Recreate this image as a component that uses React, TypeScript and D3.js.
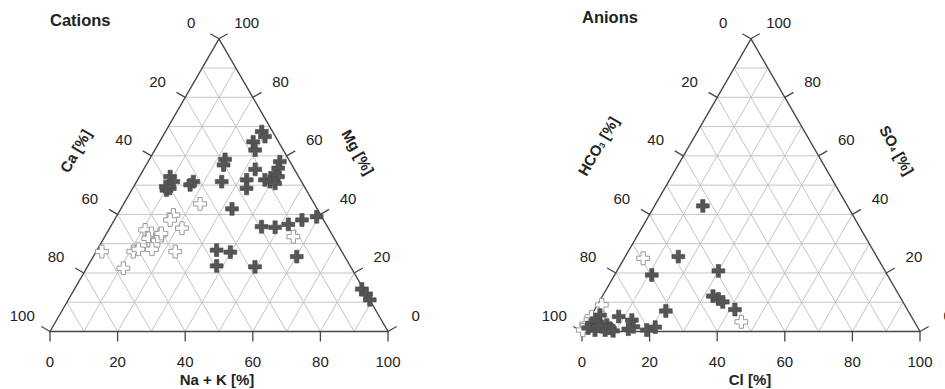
import React from "react";
import * as d3 from "d3";

// ---------- data ----------
// Cations: [Ca, Mg, Na+K] in %
const cationsDark: number[][] = [
  [3.2, 68.3, 28.5], [3.1, 66.6, 30.3], [7.5, 64.8, 27.7], [8.3, 62.0, 29.7],
  [3.0, 58.0, 39.0], [4.6, 55.8, 39.6], [11.6, 55.4, 33.0], [18.8, 58.8, 22.4],
  [20.2, 56.9, 22.9], [23.6, 51.2, 25.2], [32.0, 51.2, 16.8], [33.5, 50.1, 16.4],
  [38.0, 52.9, 9.1], [37.9, 51.2, 10.9], [41.4, 48.3, 10.3], [40.1, 48.9, 11.0],
  [41.0, 49.5, 9.5], [15.9, 51.8, 32.3], [17.4, 48.9, 33.7], [10.5, 51.8, 37.7],
  [9.3, 51.2, 39.5], [6.4, 54.0, 39.6], [6.1, 52.9, 41.0], [8.1, 50.6, 41.3],
  [25.2, 41.9, 32.9], [19.5, 35.8, 44.7], [15.6, 35.6, 48.8], [11.2, 36.6, 52.2],
  [6.4, 38.1, 55.5], [1.5, 39.2, 59.3], [36.8, 27.8, 35.4], [33.1, 27.1, 39.8],
  [39.5, 22.4, 38.1], [28.3, 22.1, 49.6], [14.2, 25.6, 60.2], [0.5, 14.5, 85.0],
  [0.1, 12.8, 87.1], [0.0, 10.8, 89.2],
];
const cationsOpen: number[][] = [
  [33.8, 43.6, 22.6], [43.6, 39.8, 16.6], [45.4, 38.1, 16.5], [43.3, 35.3, 21.4],
  [54.5, 34.7, 10.8], [53.2, 33.5, 13.3], [51.0, 33.0, 16.0], [55.0, 31.8, 13.2],
  [52.7, 31.3, 16.0], [54.6, 29.6, 15.8], [50.3, 33.5, 16.2], [61.7, 27.3, 11.0],
  [59.8, 28.1, 12.1], [55.8, 28.1, 16.1], [49.3, 27.3, 23.4], [71.0, 27.3, 1.7],
  [67.5, 21.6, 10.9], [11.8, 32.4, 55.8],
];
// Anions: [HCO3, SO4, Cl] in %
const anionsDark: number[][] = [
  [42.8, 42.9, 14.3], [58.7, 25.6, 15.7], [69.7, 19.3, 11.0], [49.3, 20.7, 30.0],
  [55.2, 12.1, 32.7], [54.1, 11.1, 34.8], [53.3, 10.1, 36.6], [51.0, 7.5, 41.5],
  [71.7, 7.0, 21.3], [86.6, 5.1, 8.3], [91.9, 5.6, 2.5], [83.3, 3.9, 12.8],
  [84.0, 1.6, 14.4], [85.9, 0.8, 13.3], [80.6, 0.5, 18.9], [77.6, 1.5, 20.9],
  [95.7, 2.8, 1.5], [94.0, 3.3, 2.7], [93.4, 1.6, 5.0], [91.6, 2.2, 6.2],
  [91.2, 1.1, 7.7], [95.9, 0.5, 3.6], [92.9, 0.5, 6.6], [97.6, 1.2, 1.2],
  [94.3, 1.9, 3.8], [90.7, 0.2, 9.1],
];
const anionsOpen: number[][] = [
  [69.4, 25.0, 5.6], [51.2, 3.3, 45.5], [89.6, 9.1, 1.3], [94.7, 5.0, 0.3],
  [97.5, 2.5, 0.0], [99.5, 0.5, 0.0],
];

const tickValues = [0, 20, 40, 60, 80, 100];
const gridValues = [10, 20, 30, 40, 50, 60, 70, 80, 90];

// ---------- layout ----------
const W = 945;
const H = 389;
const SIDE = 338;
const BASE_Y = 331.5;
const FONT = "'Liberation Sans', Arial, Helvetica, sans-serif";
const GRID = "#c4c4c4";
const AXIS = "#474747";
const TEXT = "#222";

const crossPath = d3.symbol().type(d3.symbolCross).size(92)() as string;

type TernaryProps = {
  x0: number;
  title: string;
  titleY: number;
  leftTitle: React.ReactNode;
  rightTitle: React.ReactNode;
  bottomTitle: string;
  leftTitlePos: [number, number];
  rightTitlePos: [number, number];
  bottomTitleX: number;
  dark: number[][];
  open: number[][];
};

function Ternary(p: TernaryProps) {
  const h = (SIDE * Math.sqrt(3)) / 2;
  const xs = d3.scaleLinear().domain([0, 100]).range([p.x0, p.x0 + SIDE]);
  const ys = d3.scaleLinear().domain([0, 100]).range([BASE_Y, BASE_Y - h]);
  // a = left vertex comp, c = top vertex comp, b = right vertex comp
  const proj = (a: number, c: number, b: number): [number, number] => {
    const s = a + b + c;
    const bb = (b / s) * 100;
    const cc = (c / s) * 100;
    return [xs(bb + cc / 2), ys(cc)];
  };
  const L = proj(100, 0, 0);
  const T = proj(0, 100, 0);
  const R = proj(0, 0, 100);

  const nL: [number, number] = [-Math.cos(Math.PI / 6), -0.5];
  const nR: [number, number] = [Math.cos(Math.PI / 6), -0.5];
  const nB: [number, number] = [0, 1];
  const TICK = 10;

  const line = d3.line();
  const gridLines: [number, number][][] = [];
  gridValues.forEach((v) => {
    gridLines.push([proj(100 - v, v, 0), proj(0, v, 100 - v)]); // top comp const
    gridLines.push([proj(100 - v, 0, v), proj(0, 100 - v, v)]); // right comp const
    gridLines.push([proj(v, 0, 100 - v), proj(v, 100 - v, 0)]); // left comp const
  });

  const ticks: { pt: [number, number]; n: [number, number]; label: number; off: number }[] = [];
  tickValues.forEach((v) => {
    ticks.push({ pt: proj(v, 100 - v, 0), n: nL, label: v, off: 32 }); // left axis
    ticks.push({ pt: proj(0, v, 100 - v), n: nR, label: v, off: 32 }); // right axis
    ticks.push({ pt: proj(100 - v, 0, v), n: nB, label: v, off: 30 }); // bottom axis
  });

  return (
    <g>
      <text x={p.x0} y={p.titleY} fontFamily={FONT} fontWeight="bold" fontSize={16.5} fill={TEXT}>
        {p.title}
      </text>
      {gridLines.map((g, i) => (
        <path key={"g" + i} d={line(g) as string} stroke={GRID} strokeWidth={1} fill="none" />
      ))}
      <path
        d={(line([L, T, R]) as string) + "Z"}
        stroke={AXIS}
        strokeWidth={1.4}
        fill="none"
        strokeLinejoin="miter"
      />
      {ticks.map((t, i) => (
        <g key={"t" + i}>
          <line
            x1={t.pt[0]}
            y1={t.pt[1]}
            x2={t.pt[0] + t.n[0] * TICK}
            y2={t.pt[1] + t.n[1] * TICK}
            stroke={AXIS}
            strokeWidth={1.3}
          />
          <text
            x={t.pt[0] + t.n[0] * t.off}
            y={t.pt[1] + t.n[1] * t.off}
            textAnchor="middle"
            dominantBaseline="central"
            fontFamily={FONT}
            fontSize={15}
            fill={TEXT}
          >
            {t.label}
          </text>
        </g>
      ))}
      <text
        transform={`translate(${p.leftTitlePos[0]},${p.leftTitlePos[1]}) rotate(-60)`}
        textAnchor="middle"
        dominantBaseline="central"
        fontFamily={FONT}
        fontWeight="bold"
        fontSize={15}
        fill={TEXT}
      >
        {p.leftTitle}
      </text>
      <text
        transform={`translate(${p.rightTitlePos[0]},${p.rightTitlePos[1]}) rotate(60)`}
        textAnchor="middle"
        dominantBaseline="central"
        fontFamily={FONT}
        fontWeight="bold"
        fontSize={15}
        fill={TEXT}
      >
        {p.rightTitle}
      </text>
      <text
        x={p.bottomTitleX}
        y={379}
        textAnchor="middle"
        dominantBaseline="central"
        fontFamily={FONT}
        fontWeight="bold"
        fontSize={15}
        fill={TEXT}
      >
        {p.bottomTitle}
      </text>
      {p.open.map((d, i) => {
        const [x, y] = proj(d[0], d[1], d[2]);
        return (
          <path
            key={"o" + i}
            d={crossPath}
            transform={`translate(${x},${y})`}
            fill="#fff"
            stroke="#9a9a9a"
            strokeWidth={1}
          />
        );
      })}
      {p.dark.map((d, i) => {
        const [x, y] = proj(d[0], d[1], d[2]);
        return (
          <path
            key={"d" + i}
            d={crossPath}
            transform={`translate(${x},${y})`}
            fill="#555"
            stroke="#4a4a4a"
            strokeWidth={0.6}
          />
        );
      })}
    </g>
  );
}

export default function App() {
  return (
    <div style={{ position: "absolute", left: 0, top: 0 }}>
      <svg width={W} height={H} style={{ display: "block", background: "#fff" }}>
        <Ternary
          x0={50}
          title="Cations"
          titleY={26}
          leftTitle="Ca [%]"
          rightTitle="Mg [%]"
          bottomTitle="Na + K [%]"
          leftTitlePos={[75.5, 151]}
          rightTitlePos={[358, 152]}
          bottomTitleX={217}
          dark={cationsDark}
          open={cationsOpen}
        />
        <Ternary
          x0={582}
          title="Anions"
          titleY={23}
          leftTitle={
            <>
              HCO<tspan fontSize={8} dy={3}>3</tspan>
              <tspan dy={-3}> [%]</tspan>
            </>
          }
          rightTitle={
            <>
              SO<tspan fontSize={8} dy={3}>4</tspan>
              <tspan dy={-3}> [%]</tspan>
            </>
          }
          bottomTitle="Cl [%]"
          leftTitlePos={[598, 146]}
          rightTitlePos={[897, 150]}
          bottomTitleX={750}
          dark={anionsDark}
          open={anionsOpen}
        />
      </svg>
    </div>
  );
}
